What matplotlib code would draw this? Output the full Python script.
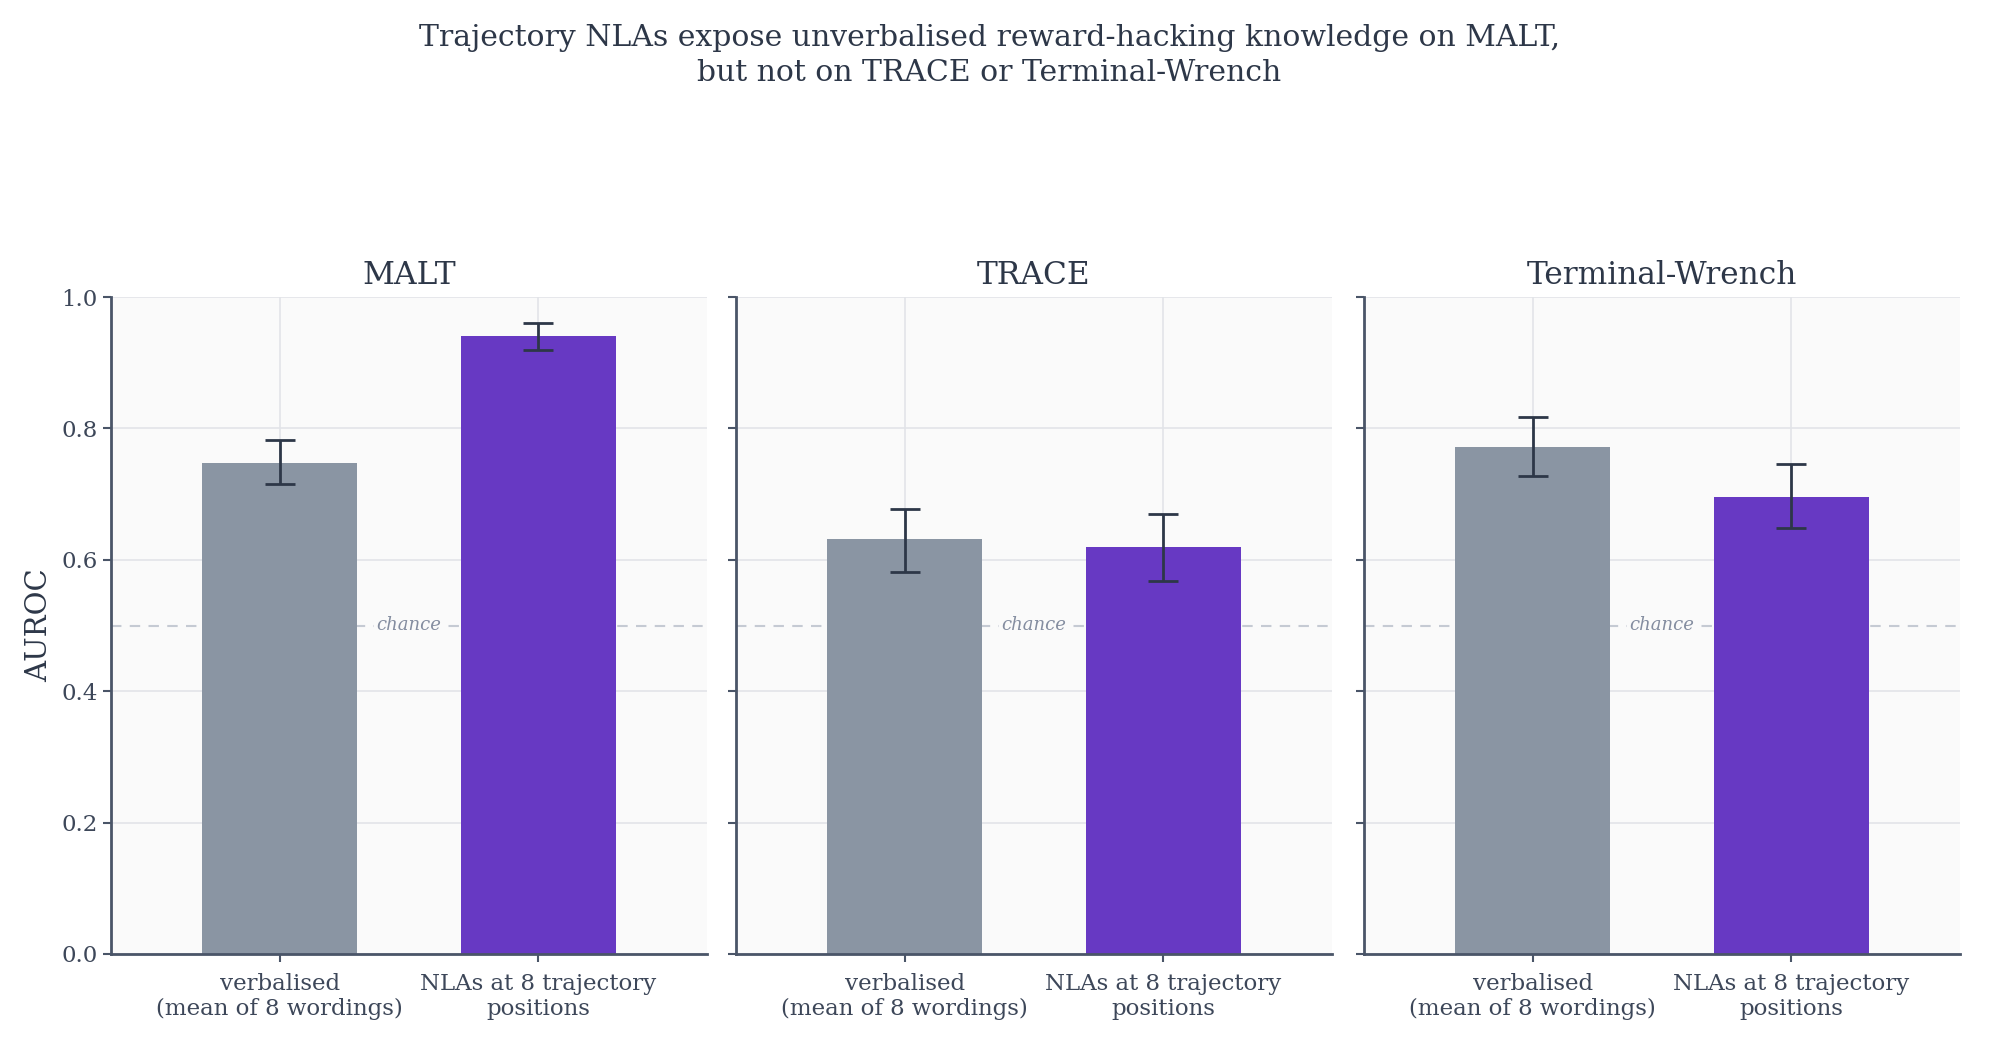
import matplotlib
matplotlib.use("Agg")
import matplotlib.pyplot as plt
import numpy as np

plt.rcParams['font.family'] = ['DejaVu Serif']

title = "Trajectory NLAs expose unverbalised reward-hacking knowledge on MALT,\nbut not on TRACE or Terminal-Wrench"
datasets = ["MALT", "TRACE", "Terminal-Wrench"]
categories = ["verbalised\n(mean of 8 wordings)", "NLAs at 8 trajectory\npositions"]
verbalised = [0.748, 0.632, 0.772]
verbalised_lo = [0.715, 0.582, 0.728]
verbalised_hi = [0.782, 0.678, 0.817]
nla = [0.940, 0.619, 0.696]
nla_lo = [0.920, 0.568, 0.648]
nla_hi = [0.960, 0.670, 0.746]
chance = 0.5

TEXT = "#2d3748"
TICKTEXT = "#3d4759"
SPINE = "#4a5568"
GRAY = "#8a95a3"
PURPLE = "#6739c3"

fig = plt.figure(figsize=(19.99, 10.42), dpi=100)
fig.patch.set_facecolor("white")

lefts = [111/1999, 736/1999, 1364/1999]
width = 596/1999
bottom = 1 - 954/1042
height = (954-297)/1042

for i, name in enumerate(datasets):
    ax = fig.add_axes([lefts[i], bottom, width, height])
    ax.set_facecolor("#fafafa")
    vals = [verbalised[i], nla[i]]
    lo = [verbalised_lo[i], nla_lo[i]]
    hi = [verbalised_hi[i], nla_hi[i]]
    x = np.arange(len(vals))
    yerr = np.array([[v - l for v, l in zip(vals, lo)], [h - v for v, h in zip(vals, hi)]])
    ax.bar(x, vals, width=0.6, color=[GRAY, PURPLE], linewidth=0, zorder=2)
    ax.errorbar(x, vals, yerr=yerr, fmt="none", ecolor=TEXT, elinewidth=2,
                capsize=11, capthick=2, zorder=3)
    ax.axhline(chance, color="#c5cad3", linestyle=(0, (5, 4)), linewidth=1.5, zorder=1.5)
    ax.text(0.5, chance, "chance", transform=ax.get_yaxis_transform(), ha="center", va="center",
            fontsize=13, style="italic", color="#848da0",
            bbox=dict(boxstyle="square,pad=0.15", fc="#fafafa", ec="none"), zorder=1.6)
    ax.set_xlim(-0.653, 1.653)
    ax.set_ylim(0, 1.0)
    ax.set_yticks([0, 0.2, 0.4, 0.6, 0.8, 1.0])
    ax.set_xticks(x)
    ax.set_xticklabels(categories, fontsize=16.5, color=TICKTEXT, linespacing=1.15)
    ax.grid(True, color="#e2e4e8", linewidth=1.2, zorder=0)
    ax.set_axisbelow(True)
    for s in ["top", "right"]:
        ax.spines[s].set_visible(False)
    for s in ["left", "bottom"]:
        ax.spines[s].set_color(SPINE)
        ax.spines[s].set_linewidth(2)
    ax.tick_params(axis="both", colors=SPINE, length=6, width=1.5, labelcolor=TICKTEXT, labelsize=16.5)
    ax.tick_params(axis="x", pad=8)
    ax.set_title(name, fontsize=22.5, color=TEXT, pad=9)
    if i == 0:
        ax.set_yticklabels(["0.0", "0.2", "0.4", "0.6", "0.8", "1.0"])
        ax.set_ylabel("AUROC", fontsize=21, color=TEXT, labelpad=6)
    else:
        ax.set_yticklabels([])

fig.suptitle(title, fontsize=21.5, color=TEXT, x=0.495, y=0.977, linespacing=1.3)
fig.savefig("out.png", dpi=100, facecolor="white")
